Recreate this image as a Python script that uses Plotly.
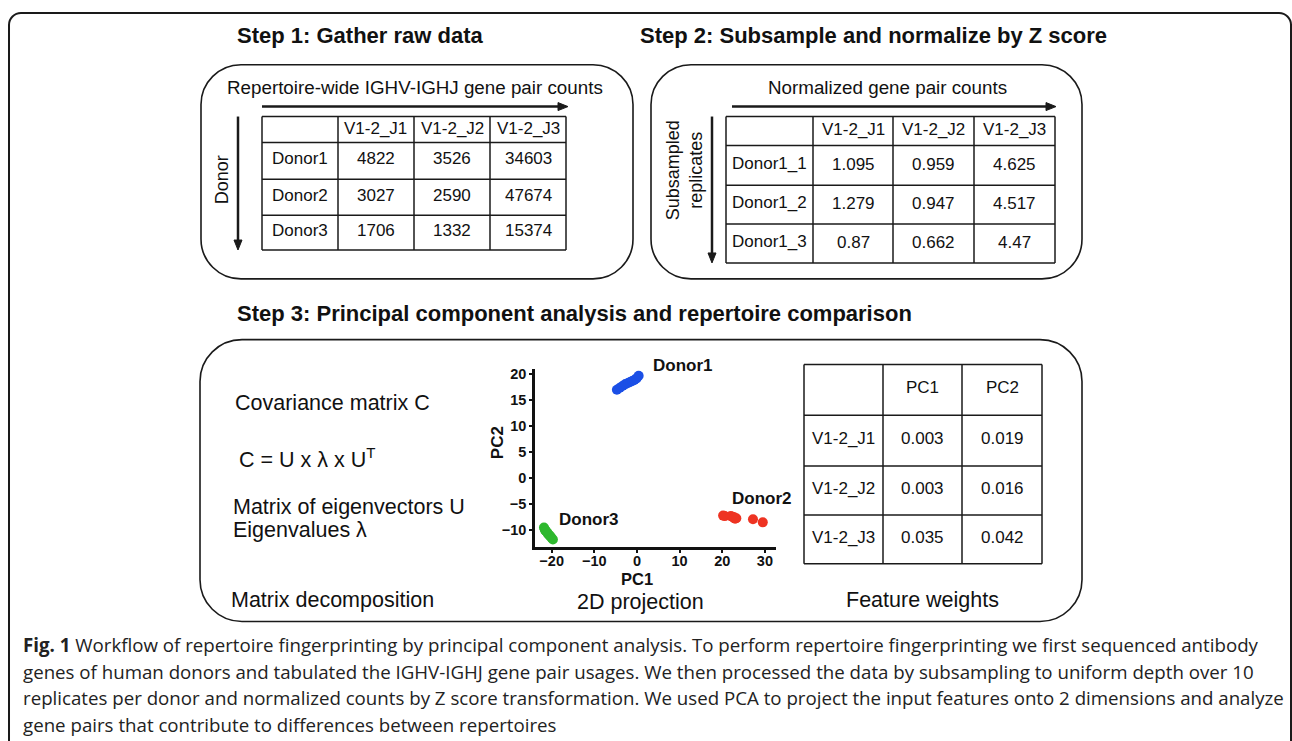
import plotly.graph_objects as go

W, H = 1292, 741

# ---------------- data ----------------
genes = ["V1-2_J1", "V1-2_J2", "V1-2_J3"]
donors = ["Donor1", "Donor2", "Donor3"]
raw_counts = [[4822, 3526, 34603],
              [3027, 2590, 47674],
              [1706, 1332, 15374]]
replicates = ["Donor1_1", "Donor1_2", "Donor1_3"]
z_scores = [[1.095, 0.959, 4.625],
            [1.279, 0.947, 4.517],
            [0.87, 0.662, 4.47]]
pcs = ["PC1", "PC2"]
weights = [[0.003, 0.019],
           [0.003, 0.016],
           [0.035, 0.042]]

donor1_pc1 = [-4.7, -4.0, -3.3, -2.7, -2.1, -1.6, -1.1, -0.6, -0.1, 0.4]
donor1_pc2 = [16.9, 17.3, 17.7, 18.0, 18.2, 18.4, 18.6, 18.8, 19.1, 19.6]
donor2_pc1 = [20.2, 20.6, 22.0, 22.4, 22.7, 23.0, 23.3, 22.8, 27.2, 29.5]
donor2_pc2 = [-7.3, -7.4, -7.4, -7.5, -7.7, -7.9, -7.8, -7.6, -8.0, -8.6]
donor3_pc1 = [-21.8, -21.6, -21.3, -21.0, -20.8, -20.5, -20.3, -20.0, -19.7, -21.4]
donor3_pc2 = [-9.6, -10.0, -10.3, -10.6, -10.9, -11.1, -11.3, -11.6, -11.9, -10.2]

caption_lines = [
    "<b>Fig. 1</b> Workflow of repertoire fingerprinting by principal component analysis. To perform repertoire fingerprinting we first sequenced antibody",
    "genes of human donors and tabulated the IGHV-IGHJ gene pair usages. We then processed the data by subsampling to uniform depth over 10",
    "replicates per donor and normalized counts by Z score transformation. We used PCA to project the input features onto 2 dimensions and analyze",
    "gene pairs that contribute to differences between repertoires",
]

# ---------------- helpers ----------------
def X(px):
    return px / W

def Y(py):
    return 1 - py / H

SANS = "Liberation Sans, Arial, Helvetica, sans-serif"
LINE = "#1a1a1a"
DY = -2  # small vertical correction for text centring

shapes = []
annotations = []


def rrect(x0, y0, x1, y1, r, width=1.6):
    k = 0.5523 * r
    pts = [
        ("M", [(x0 + r, y0)]),
        ("L", [(x1 - r, y0)]),
        ("C", [(x1 - r + k, y0), (x1, y0 + r - k), (x1, y0 + r)]),
        ("L", [(x1, y1 - r)]),
        ("C", [(x1, y1 - r + k), (x1 - r + k, y1), (x1 - r, y1)]),
        ("L", [(x0 + r, y1)]),
        ("C", [(x0 + r - k, y1), (x0, y1 - r + k), (x0, y1 - r)]),
        ("L", [(x0, y0 + r)]),
        ("C", [(x0, y0 + r - k), (x0 + r - k, y0), (x0 + r, y0)]),
    ]
    path = ""
    for cmd, ps in pts:
        path += cmd + " " + " ".join(f"{X(a):.5f},{Y(b):.5f}" for a, b in ps) + " "
    path += "Z"
    shapes.append(dict(type="path", xref="paper", yref="paper", path=path,
                       line=dict(color=LINE, width=width), fillcolor="rgba(0,0,0,0)",
                       layer="below"))


def hline(x0, x1, y, width=1.5):
    shapes.append(dict(type="line", xref="paper", yref="paper",
                       x0=X(x0), x1=X(x1), y0=Y(y), y1=Y(y),
                       line=dict(color=LINE, width=width)))


def vline(x, y0, y1, width=1.5):
    shapes.append(dict(type="line", xref="paper", yref="paper",
                       x0=X(x), x1=X(x), y0=Y(y0), y1=Y(y1),
                       line=dict(color=LINE, width=width)))


def tri(points):
    path = "M " + " L ".join(f"{X(a):.5f},{Y(b):.5f}" for a, b in points) + " Z"
    shapes.append(dict(type="path", xref="paper", yref="paper", path=path,
                       line=dict(color=LINE, width=1), fillcolor=LINE))


def arrow_right(x0, x1, y):
    hline(x0, x1 - 8, y, width=2.5)
    tri([(x1, y), (x1 - 10, y - 4), (x1 - 10, y + 4)])


def arrow_down(x, y0, y1):
    vline(x, y0, y1 - 8, width=2.5)
    tri([(x, y1), (x - 4, y1 - 10), (x + 4, y1 - 10)])


def text(px, py, s, size=17, xanchor="center", bold=False, family=SANS,
         color="#111", angle=0, dy=DY):
    annotations.append(dict(x=X(px), y=Y(py + dy), xref="paper", yref="paper",
                            text=s, showarrow=False, xanchor=xanchor,
                            yanchor="middle", textangle=angle,
                            font=dict(size=size, family=family, color=color,
                                      weight="bold" if bold else "normal")))


def grid(cols, rows, width=1.5):
    for cx in cols:
        vline(cx, rows[0], rows[-1], width)
    for ry in rows:
        hline(cols[0], cols[-1], ry, width)


# ---------------- outer frame ----------------
rrect(9, 10, 1291, 800, 12, width=2)

# ---------------- step 1 ----------------
text(360, 36, "Step 1: Gather raw data", size=22, bold=True, dy=-3)
rrect(201, 62, 633, 277, 40)
text(415, 87, "Repertoire-wide IGHV-IGHJ gene pair counts", size=18.8)
arrow_right(262, 568, 104)
arrow_down(238, 114, 248)
text(222, 178, "Donor", size=18, angle=-90, dy=0)

t1_cols = [262, 338, 414, 490, 566]
t1_rows = [114, 140, 177, 213, 248]
grid(t1_cols, t1_rows)
for j, g in enumerate(genes):
    text((t1_cols[j + 1] + t1_cols[j + 2]) / 2, (t1_rows[0] + t1_rows[1]) / 2 + 1, g, size=17)
for i, d in enumerate(donors):
    cy = (t1_rows[i + 1] + t1_rows[i + 2]) / 2
    text((t1_cols[0] + t1_cols[1]) / 2, cy, d, size=17)
    for j in range(3):
        text((t1_cols[j + 1] + t1_cols[j + 2]) / 2, cy, str(raw_counts[i][j]), size=17)

# ---------------- step 2 ----------------
text(873, 36, "Step 2: Subsample and normalize by Z score", size=22, bold=True, dy=-3)
rrect(651, 62, 1082, 277, 40)
text(887, 87, "Normalized gene pair counts", size=18.8)
arrow_right(732, 1056, 104)
arrow_down(712, 114, 261)
text(684, 168, "Subsampled<br>replicates", size=18, angle=-90, dy=0)

t2_cols = [726, 813, 893, 974, 1055]
t2_rows = [114, 143, 183, 222, 261]
grid(t2_cols, t2_rows)
for j, g in enumerate(genes):
    text((t2_cols[j + 1] + t2_cols[j + 2]) / 2, (t2_rows[0] + t2_rows[1]) / 2 + 1, g, size=17)
for i, r in enumerate(replicates):
    cy = (t2_rows[i + 1] + t2_rows[i + 2]) / 2
    text(t2_cols[0] + 4, cy, r, size=17, xanchor="left")
    for j in range(3):
        text((t2_cols[j + 1] + t2_cols[j + 2]) / 2, cy + 1, str(z_scores[i][j]), size=17)

# ---------------- step 3 ----------------
text(574, 315, "Step 3: Principal component analysis and repertoire comparison", size=22, bold=True, dy=-3)
rrect(200, 338, 1082, 621, 42)
text(233, 404, "Covariance matrix C", size=21.5, xanchor="left")
text(237, 459, "C = U x λ x U<sup>T</sup>", size=21.5, xanchor="left")
text(231, 508, "Matrix of eigenvectors U", size=21.5, xanchor="left")
text(231, 531, "Eigenvalues λ", size=21.5, xanchor="left")
text(229, 601, "Matrix decomposition", size=21.5, xanchor="left")
text(640, 603, "2D projection", size=21.5)
text(922, 601, "Feature weights", size=21.5)

t3_cols = [804, 883, 962, 1042]
t3_rows = [363, 414, 465, 514, 563]
grid(t3_cols, t3_rows)
for j, p in enumerate(pcs):
    text((t3_cols[j + 1] + t3_cols[j + 2]) / 2, (t3_rows[0] + t3_rows[1]) / 2, p, size=17)
for i, g in enumerate(genes):
    cy = (t3_rows[i + 1] + t3_rows[i + 2]) / 2
    text((t3_cols[0] + t3_cols[1]) / 2, cy, g, size=17)
    for j in range(2):
        text((t3_cols[j + 1] + t3_cols[j + 2]) / 2, cy, f"{weights[i][j]:.3f}", size=17)

# scatter labels and axis titles
text(651, 366, "Donor1", size=17, bold=True, xanchor="left")
text(730, 500, "Donor2", size=17, bold=True, xanchor="left")
text(557, 521, "Donor3", size=17, bold=True, xanchor="left")
text(637, 578, "PC1", size=16.5, bold=True, dy=0)
text(497, 442, "PC2", size=17, bold=True, angle=-90, dy=0)

# caption
cap_y = [645, 672, 698, 725]
for s, cy in zip(caption_lines, cap_y):
    text(21, cy, s, size=18.7, xanchor="left", family="Open Sans, sans-serif",
         color="#222", dy=-1)

# ---------------- figure ----------------
fig = go.Figure()
for xs, ys, col, name in [(donor1_pc1, donor1_pc2, "#1b4fe6", "Donor1"),
                          (donor2_pc1, donor2_pc2, "#ee3322", "Donor2"),
                          (donor3_pc1, donor3_pc2, "#2eb82e", "Donor3")]:
    fig.add_trace(go.Scatter(x=xs, y=ys, mode="markers", name=name,
                             marker=dict(size=10, color=col, line=dict(width=0)),
                             showlegend=False))

axis_common = dict(showgrid=False, zeroline=False, showline=True, linecolor="#111",
                   linewidth=2.5, ticks="outside", ticklen=3, tickwidth=2,
                   tickcolor="#111",
                   tickfont=dict(size=14.5, family=SANS, color="#111", weight="bold"))

fig.update_layout(
    width=W, height=H, margin=dict(l=0, r=0, t=0, b=0),
    paper_bgcolor="white", plot_bgcolor="white",
    shapes=shapes, annotations=annotations,
    xaxis=dict(domain=[X(535), X(776)], range=[-23.9, 32.6],
               tickvals=[-20, -10, 0, 10, 20, 30], ticklabelstandoff=-4, **axis_common),
    yaxis=dict(domain=[Y(546), Y(367)], range=[-13.3, 21.0],
               tickvals=[-10, -5, 0, 5, 10, 15, 20], **axis_common),
)

fig.write_html("out.html", config={"displayModeBar": False},
               post_script="document.body.style.margin='0';document.body.style.overflow='hidden';")
